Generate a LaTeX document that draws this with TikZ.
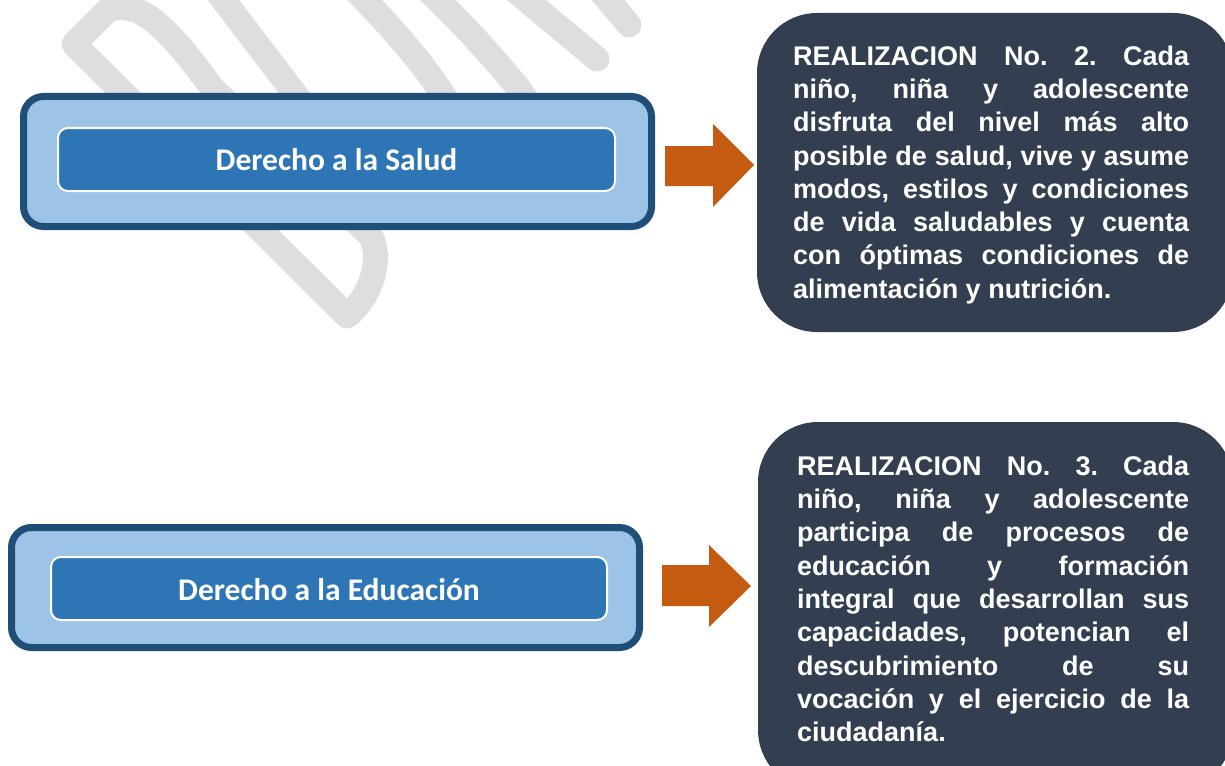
\documentclass[tikz,border=0pt]{standalone}
\usepackage{fontspec}
\setmainfont{Liberation Sans}
\newfontfamily\calibri{Carlito}
\definecolor{wmgray}{RGB}{222,222,222}
\definecolor{borderblue}{HTML}{1F4E79}
\definecolor{lightblue}{HTML}{9DC3E6}
\definecolor{midblue}{HTML}{2E75B6}
\definecolor{darkslate}{HTML}{333F50}
\definecolor{arroworange}{HTML}{C55A11}
\setlength\parindent{0pt}
\tolerance=10000
\hbadness=10000
\hyphenpenalty=10000
\frenchspacing
\begin{document}
\begin{tikzpicture}[x=1pt,y=-1pt,
  wm/.style={draw=wmgray, line width=25pt, line cap=round, line join=round},
  outerbox/.style={draw=borderblue, fill=lightblue, line width=7pt, rounded corners=20pt, inner sep=0pt},
  innerbox/.style={draw=white, fill=midblue, line width=2pt, rounded corners=10pt, inner sep=0pt},
  lefttext/.style={text=white, inner sep=0pt, anchor=base, font=\calibri\bfseries\fontsize{31.5}{36}\selectfont},
  darkbox/.style={fill=darkslate, rounded corners=60pt, inner sep=0pt},
  righttext/.style={text=white, inner sep=0pt, anchor=north west, align=justify, font=\fontsize{27}{33.3}\selectfont\bfseries},
  blockarrow/.style={fill=arroworange}]
\useasboundingbox (0,0) rectangle (1225,765);
\clip (0,0) rectangle (1225,765);
% watermark
\draw[wm] (74,44) -- (108,10) .. controls (140,-2) and (170,30) .. (212,88) -- (370,235) .. controls (382,255) and (374,294) .. (347,316) -- cycle;
\draw[wm] (212,-15) -- (292,90) -- (340,150);
\draw[wm] (350,-15) .. controls (390,25) and (420,60) .. (440,90) -- (480,150);
\draw[wm] (422,-15) .. controls (465,25) and (495,60) .. (520,90) -- (560,150);
\draw[wm] (512,-12) -- (597,59);
\draw[wm] (598,-12) -- (629,25);
% left boxes
\node[outerbox, minimum width=628pt, minimum height=130pt] (o1) at (337.5,161.5) {};
\node[innerbox, minimum width=557pt, minimum height=63pt] (i1) at (336.5,159.5) {};
\node[lefttext] (l1) at (336.5,170) {Derecho a la Salud};
\node[outerbox, minimum width=628pt, minimum height=120pt] (o2) at (325.5,587.5) {};
\node[innerbox, minimum width=556pt, minimum height=63pt] (i2) at (329,588.5) {};
\node[lefttext] (l2) at (329,600) {Derecho a la Educación};
% arrows
\fill[blockarrow] (665,146) -- (713,146) -- (713,124) -- (754,165) -- (713,207) -- (713,186) -- (665,186) -- cycle;
\fill[blockarrow] (662,565) -- (709,565) -- (709,545) -- (751,586) -- (709,627) -- (709,606) -- (662,606) -- cycle;
% dark boxes
\node[darkbox, minimum width=476pt, minimum height=319pt] (d1) at (995,172.5) {};
\node[darkbox, minimum width=475pt, minimum height=368pt] (d2) at (995.5,606) {};
\node[righttext, text width=396pt] (r1) at (793,45) {\rule{0pt}{20pt}REALIZACION No. 2. Cada\linebreak
niño, niña y adolescente\linebreak
disfruta del nivel más alto\linebreak
posible de salud, vive y asume\linebreak
modos, estilos y condiciones\linebreak
de vida saludables y cuenta\linebreak
con óptimas condiciones de\linebreak
alimentación y nutrición.};
\node[righttext, text width=392pt] (r2) at (797,455) {\rule{0pt}{20pt}REALIZACION No. 3. Cada\linebreak
niño, niña y adolescente\linebreak
participa de procesos de\linebreak
educación y formación\linebreak
integral que desarrollan sus\linebreak
capacidades, potencian el\linebreak
descubrimiento de su\linebreak
vocación y el ejercicio de la\linebreak
ciudadanía.};
\end{tikzpicture}
\end{document}
